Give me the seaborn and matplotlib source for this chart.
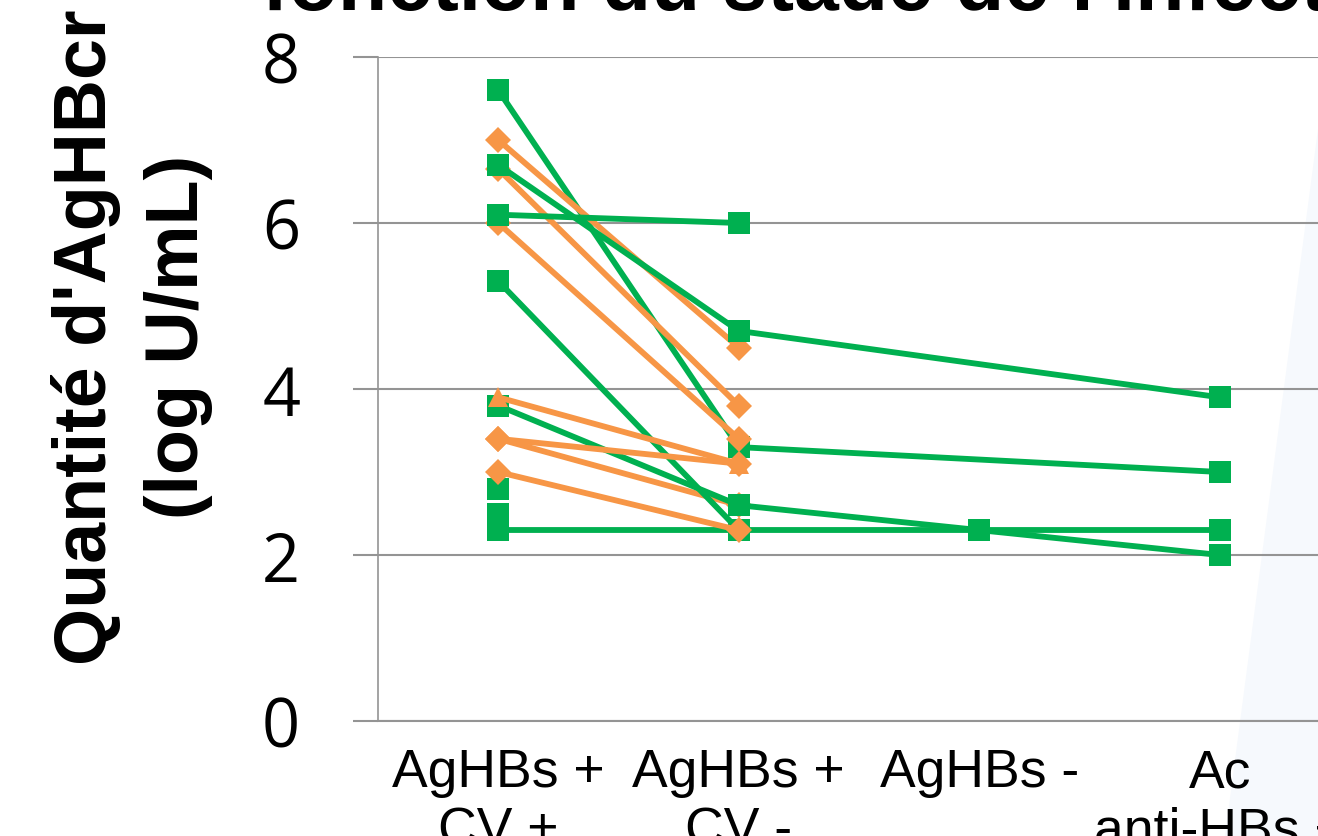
import numpy as np
import pandas as pd
import matplotlib
matplotlib.use("Agg")
import matplotlib.pyplot as plt
from matplotlib.patches import Polygon
import seaborn as sns

# Stages of infection (x axis)
categories = ["AgHBs +\nCV +", "AgHBs +\nCV -", "AgHBs -", "Ac\nanti-HBs +"]
yticks = [0, 2, 4, 6, 8]

nan = np.nan
# Patients followed in green (squares), log U/mL at each stage
green_1 = [7.6, 3.3, nan, 3.0]
green_2 = [6.7, 4.7, nan, 3.9]
green_3 = [6.1, 6.0, nan, nan]
green_4 = [5.3, 2.3, nan, nan]
green_5 = [3.8, 2.6, nan, 2.0]
green_6 = [2.8, nan, nan, nan]
green_7 = [2.5, nan, nan, nan]
green_8 = [2.3, 2.3, 2.3, 2.3]

# Patients followed in orange (diamonds / triangle)
orange_1 = [7.0, 4.5, nan, nan]
orange_2 = [6.65, 3.8, nan, nan]
orange_3 = [6.0, 3.4, nan, nan]
orange_4 = [3.9, 3.1, nan, nan]
orange_5 = [3.4, 3.1, nan, nan]
orange_6 = [3.4, 2.6, nan, nan]
orange_7 = [3.0, 2.3, nan, nan]

GREEN = "#00B050"
ORANGE = "#F79646"
GRID = "#949494"

sns.set_theme(style="white")

W, H = 1318, 837
fig = plt.figure(figsize=(W / 100, H / 100), dpi=100)
fig.patch.set_facecolor("white")

# faint slide decoration in the lower right corner
deco = Polygon([(1318 / W, 1 - 130 / H), (1318 / W, 0), (1225 / W, 0)],
               closed=True, transform=fig.transFigure,
               facecolor="#F6F9FD", edgecolor="none", zorder=-1)
fig.patches.append(deco)

ax = fig.add_axes([378 / W, 115 / H, (1340 - 378) / W, (722 - 58) / H])
ax.set_facecolor("none")

SQ, DM, TR = 16, 13, 15
series = [
    (green_1, GREEN, "s", SQ, 2),
    (orange_1, ORANGE, "D", DM, 3),
    (orange_2, ORANGE, "D", DM, 3),
    (orange_3, ORANGE, "D", DM, 3),
    (orange_6, ORANGE, "D", DM, 3),
    (green_2, GREEN, "s", SQ, 4),
    (green_3, GREEN, "s", SQ, 4),
    (green_4, GREEN, "s", SQ, 4),
    (green_5, GREEN, "s", SQ, 4),
    (green_6, GREEN, "s", SQ, 4),
    (green_7, GREEN, "s", SQ, 4),
    (green_8, GREEN, "s", SQ, 4),
    (orange_4, ORANGE, "^", TR, 5),
    (orange_5, ORANGE, "D", DM, 5),
    (orange_7, ORANGE, "D", DM, 5),
]

xpos = np.arange(len(categories))
for values, color, marker, msize, z in series:
    df = pd.DataFrame({"stage": xpos, "value": values}).dropna()
    sns.lineplot(data=df, x="stage", y="value", ax=ax, color=color,
                 marker=marker, markersize=msize, markeredgewidth=0,
                 linewidth=4.2, errorbar=None, estimator=None,
                 zorder=z, legend=False)

ax.set_xlim(-0.5, len(categories) - 0.5)
ax.set_ylim(0, 8)
ax.set_yticks(yticks)
ax.set_xticks(xpos)
ax.set_xticklabels(categories, fontfamily="Liberation Sans", fontsize=38.5,
                   color="black", linespacing=1.2)
ax.set_yticklabels([str(v) for v in yticks], fontfamily="Open Sans",
                   fontsize=48, color="black")
ax.set_xlabel("")
ax.set_ylabel("")

ax.yaxis.grid(True, color=GRID, linewidth=1.5)
ax.xaxis.grid(False)
ax.tick_params(axis="y", direction="out", length=18, width=1.5,
               color=GRID, pad=38, left=True)
ax.tick_params(axis="x", length=0, pad=19)
for side in ("top", "right"):
    ax.spines[side].set_visible(False)
ax.spines["left"].set_color(GRID)
ax.spines["left"].set_linewidth(1.2)
ax.spines["bottom"].set_color(GRID)
ax.spines["bottom"].set_linewidth(1.5)

# axis title (two lines, rotated)
fig.text(132 / W, 1 - 337 / H, "Quantité d'AgHBcr\n(log U/mL)",
         rotation=90, ha="center", va="center", multialignment="center",
         fontfamily="Liberation Sans", fontweight="bold", fontsize=53,
         linespacing=1.42, color="black")

# chart title, mostly above the visible frame
fig.text(262 / W, 1 - 10 / H, "fonction du stade de l'infection",
         ha="left", va="baseline", fontfamily="Liberation Sans",
         fontweight="bold", fontsize=58, color="black")

fig.savefig("out.png", dpi=100)
